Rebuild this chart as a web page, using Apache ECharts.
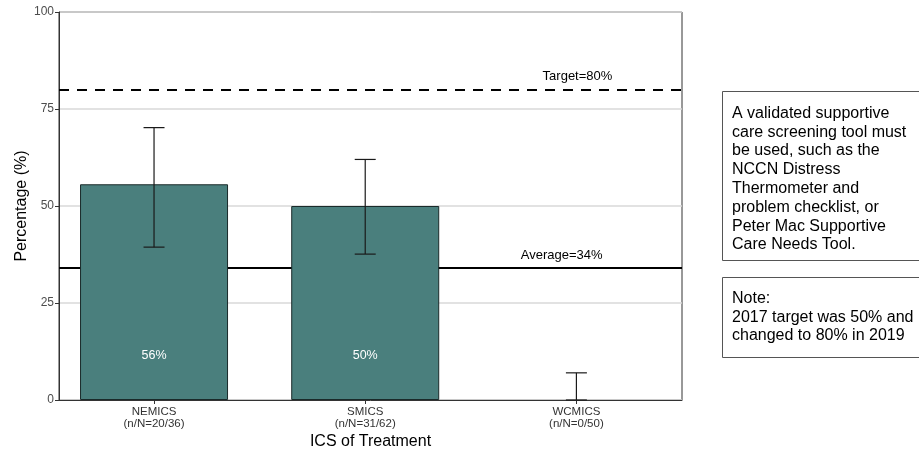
<!DOCTYPE html>
<html>
<head>
<meta charset="utf-8">
<script src="https://cdn.jsdelivr.net/npm/echarts@6/dist/echarts.min.js"></script>
<style>
  html, body { margin: 0; padding: 0; background: #fff; }
  #chart { width: 919px; height: 450px; }
</style>
</head>
<body>
<div id="chart"></div>
<script>
// ICS groups, plotted at x = 1, 2, 3
const categories = ['NEMICS', 'SMICS', 'WCMICS'];
const counts = ['(n/N=20/36)', '(n/N=31/62)', '(n/N=0/50)'];
const percent = [55.6, 50, 0];
const ciLow = [39.4, 37.6, 0];
const ciHigh = [70.2, 62, 7];
const barLabels = ['56%', '50%', ''];
const targetValue = 80;
const averageValue = 34;
const yTicks = [0, 25, 50, 75, 100];

const font = '"Liberation Sans", Arial, sans-serif';

const chart = echarts.init(document.getElementById('chart'));

// zero-height bars get no outline, like the reference
const barData = percent.map((v, i) => ({
    value: [i + 1, v],
    itemStyle: v === 0 ? { borderWidth: 0 } : undefined
}));
const errData = percent.map((v, i) => [i + 1, ciLow[i], ciHigh[i]]);
const labelData = barLabels.map((t, i) => [i + 1, 11.5, t]).filter(d => d[2] !== '');
const refLabels = [
    [3.005, targetValue, 'Target=80%'],
    [2.93, averageValue, 'Average=34%']
];

const option = {
    backgroundColor: '#fff',
    animation: false,
    grid: {
        left: 59, right: 237, top: 12, bottom: 50,
        outerBoundsMode: 'none',
        show: true, borderColor: '#333', borderWidth: 1, backgroundColor: 'transparent'
    },
    xAxis: {
        type: 'value',
        min: 0.55,
        max: 3.5,
        name: 'ICS of Treatment',
        nameLocation: 'middle',
        nameGap: 34,
        nameMoveOverlap: false,
        nameTextStyle: { fontFamily: font, fontSize: 16, color: '#000' },
        axisLine: { show: true, onZero: false, lineStyle: { color: '#333', width: 1 } },
        axisTick: { show: true, customValues: [1, 2, 3], length: 4, lineStyle: { color: '#333' } },
        axisLabel: {
            customValues: [1, 2, 3],
            fontFamily: font, fontSize: 11.5, color: '#333', lineHeight: 12, margin: 6,
            formatter: v => categories[Math.round(v) - 1] + '\n' + counts[Math.round(v) - 1]
        },
        splitLine: { show: false }
    },
    yAxis: {
        type: 'value',
        min: 0,
        max: 100,
        interval: 25,
        name: 'Percentage (%)',
        nameLocation: 'middle',
        nameGap: 29,
        nameMoveOverlap: false,
        nameTextStyle: { fontFamily: font, fontSize: 16, color: '#000' },
        axisLine: { show: true, lineStyle: { color: '#333', width: 1 } },
        axisTick: { show: true, length: 4, lineStyle: { color: '#333' } },
        axisLabel: {
            fontFamily: font, fontSize: 12, color: '#4d4d4d', margin: 5,
            formatter: v => (yTicks.indexOf(v) >= 0 ? String(v) : '')
        },
        splitLine: { show: true, lineStyle: { color: '#d9d9d9', width: 1.5 } }
    },
    series: [
        {
            type: 'bar',
            data: barData,
            barWidth: 148,
            z: 2,
            itemStyle: { color: '#4a7f7d', borderColor: '#1a2a2a', borderWidth: 1 },
            markLine: {
                silent: true,
                z: 1,
                symbol: ['none', 'none'],
                label: { show: false },
                data: [
                    { yAxis: targetValue, lineStyle: { type: [10, 8], width: 2, color: '#000' } },
                    { yAxis: averageValue, lineStyle: { type: 'solid', width: 2, color: '#000' } }
                ]
            }
        },
        {
            type: 'custom',
            z: 3,
            data: errData,
            renderItem: function (params, api) {
                const x = api.value(0);
                const lo = api.coord([x, api.value(1)]);
                const hi = api.coord([x, api.value(2)]);
                const half = 10.5;
                const st = { stroke: '#1a1a1a', lineWidth: 1.2 };
                return {
                    type: 'group',
                    children: [
                        { type: 'line', shape: { x1: hi[0], y1: hi[1], x2: lo[0], y2: lo[1] }, style: st },
                        { type: 'line', shape: { x1: hi[0] - half, y1: hi[1], x2: hi[0] + half, y2: hi[1] }, style: st },
                        { type: 'line', shape: { x1: lo[0] - half, y1: lo[1], x2: lo[0] + half, y2: lo[1] }, style: st }
                    ]
                };
            }
        },
        {
            type: 'custom',
            z: 4,
            data: labelData,
            renderItem: function (params, api) {
                const p = api.coord([api.value(0), api.value(1)]);
                return {
                    type: 'text', x: p[0], y: p[1],
                    style: {
                        text: labelData[params.dataIndex][2], fill: '#fff',
                        font: '12.5px ' + font, align: 'center', verticalAlign: 'middle'
                    }
                };
            }
        },
        {
            type: 'custom',
            z: 4,
            data: refLabels,
            renderItem: function (params, api) {
                const p = api.coord([api.value(0), api.value(1)]);
                return {
                    type: 'text', x: p[0], y: p[1] - 13,
                    style: {
                        text: refLabels[params.dataIndex][2], fill: '#000',
                        font: '13px ' + font, align: 'center', verticalAlign: 'middle'
                    }
                };
            }
        }
    ],
    graphic: [
        {
            type: 'rect', left: 722, top: 91,
            shape: { width: 200, height: 169 },
            style: { fill: '#fff', stroke: '#555', lineWidth: 1 }
        },
        {
            type: 'text', left: 732, top: 104,
            style: {
                text: 'A validated supportive\ncare screening tool must\nbe used, such as the\nNCCN Distress\nThermometer and\nproblem checklist, or\nPeter Mac Supportive\nCare Needs Tool.',
                font: '16px ' + font, fill: '#000', lineHeight: 18.8
            }
        },
        {
            type: 'rect', left: 722, top: 277,
            shape: { width: 200, height: 80 },
            style: { fill: '#fff', stroke: '#555', lineWidth: 1 }
        },
        {
            type: 'text', left: 732, top: 289,
            style: {
                text: 'Note:\n2017 target was 50% and\nchanged to 80% in 2019',
                font: '16px ' + font, fill: '#000', lineHeight: 18.8
            }
        }
    ]
};

chart.setOption(option);
</script>
</body>
</html>
